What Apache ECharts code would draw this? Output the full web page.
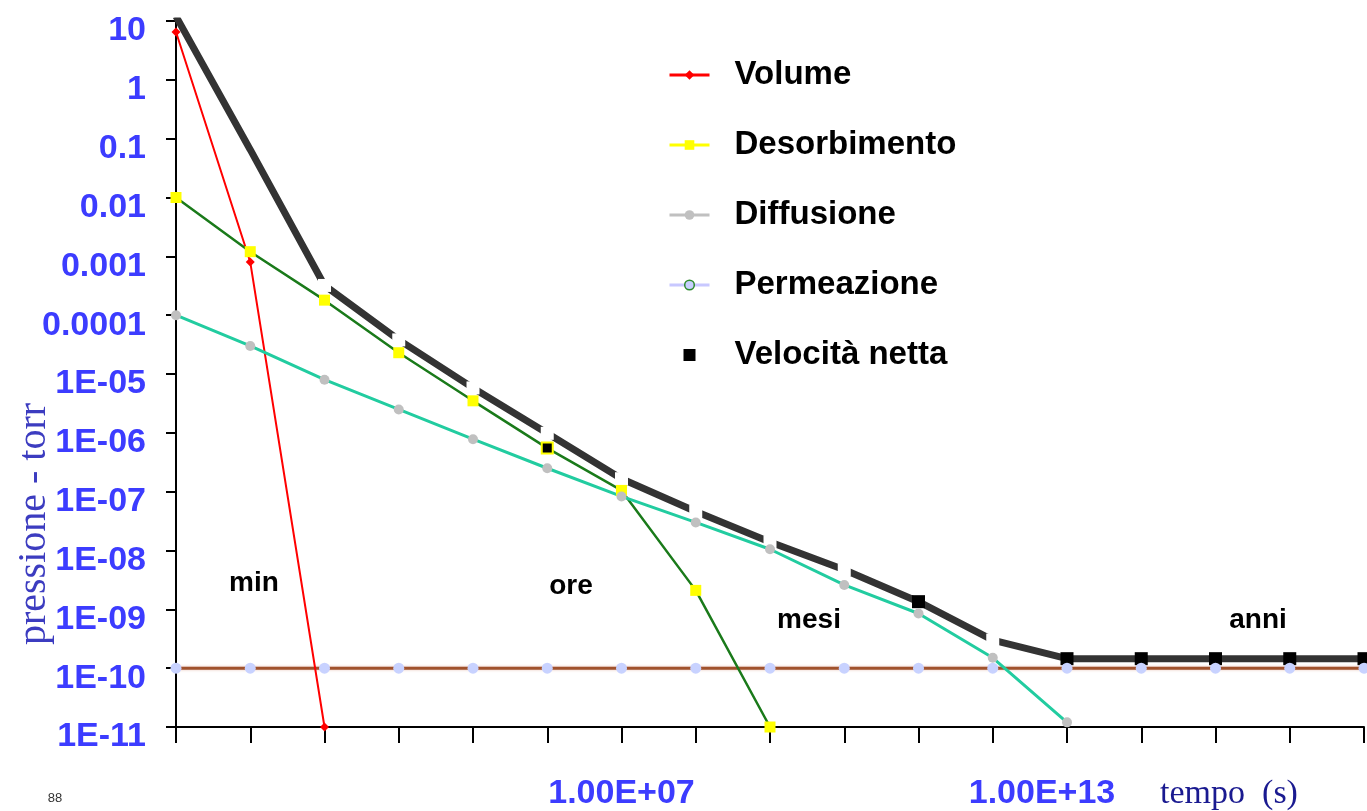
<!DOCTYPE html>
<html>
<head>
<meta charset="utf-8">
<script src="https://cdn.jsdelivr.net/npm/echarts@6/dist/echarts.min.js"></script>
<style>
html,body{margin:0;padding:0;background:#fff;}
#chart{width:1367px;height:811px;}
</style>
</head>
<body>
<div id="chart"></div>
<script>
// ---- data ----
const categories = ['1.00E+01','1.00E+02','1.00E+03','1.00E+04','1.00E+05','1.00E+06','1.00E+07','1.00E+08','1.00E+09','1.00E+10','1.00E+11','1.00E+12','1.00E+13','1.00E+14','1.00E+15','1.00E+16','1.00E+17'];
const shownXLabels = ['1.00E+07','1.00E+13'];
const yTickLabels = {'-11':'1E-11','-10':'1E-10','-9':'1E-09','-8':'1E-08','-7':'1E-07','-6':'1E-06','-5':'1E-05','-4':'0.0001','-3':'0.001','-2':'0.01','-1':'0.1','0':'1','1':'10'};

const volume       = [6.5, 8e-4, 1e-11, null, null, null, null, null, null, null, null, null, null, null, null, null, null];
const desorbimento = [0.01, 1.2e-3, 1.8e-4, 2.3e-5, 3.5e-6, 5.5e-7, 1.05e-7, 2.1e-9, 1e-11, null, null, null, null, null, null, null, null];
const diffusione   = [1e-4, 3e-5, 8e-6, 2.5e-6, 7.8e-7, 2.5e-7, 8.3e-8, 3e-8, 1.05e-8, 2.6e-9, 8.5e-10, 1.5e-10, 1.2e-11, null, null, null, null];
const permeazione  = [1e-10, 1e-10, 1e-10, 1e-10, 1e-10, 1e-10, 1e-10, 1e-10, 1e-10, 1e-10, 1e-10, 1e-10, 1e-10, 1e-10, 1e-10, 1e-10, 1e-10];
const velocitaNetta = [12, 0.065, 3.2e-4, 3.8e-5, 5.8e-6, 9.8e-7, 1.66e-7, 4.6e-8, 1.4e-8, 4.7e-9, 1.35e-9, 3.0e-10, 1.45e-10, 1.45e-10, 1.45e-10, 1.45e-10, 1.45e-10];

const seriesNames = ['Volume','Desorbimento','Diffusione','Permeazione','Velocità netta'];
const regionLabels = ['min','ore','mesi','anni'];

// ---- styling helpers ----
const netGapIdx = [2,3,4,5,6,7,8,9,11];
const netNoSymIdx = [0,1];
const netData = velocitaNetta.map((v,i)=>{
  if (netNoSymIdx.includes(i)) return {value:v, symbol:'none'};
  if (netGapIdx.includes(i)) return {value:v, symbol:'rect', symbolSize:13, itemStyle:{color:'#ffffff'}};
  return {value:v, symbol:'rect', symbolSize:13, itemStyle:{color:'#000000'}};
});
const desData = desorbimento.map((v,i)=> i===5 ? {value:v, itemStyle:{color:'#000000', borderColor:'#ffff00', borderWidth:2}} : v);

const FONT = 'Liberation Sans, Arial, sans-serif';
const SERIF = 'Liberation Serif, Times New Roman, serif';

const chart = echarts.init(document.getElementById('chart'), null, {renderer:'canvas'});
const option = {
  animation:false,
  backgroundColor:'#ffffff',
  grid:{left:176, right:3, top:21, bottom:82, containLabel:false},
  legend:{
    orient:'vertical', left:663, top:52,
    itemWidth:40, itemHeight:12, itemGap:34,
    textStyle:{fontFamily:FONT, fontWeight:'bold', fontSize:33, color:'#000', lineHeight:36, padding:[0,0,0,20]},
    data:[
      {name:seriesNames[0], itemStyle:{color:'#ff0000'}, lineStyle:{color:'#ff0000', width:3}},
      {name:seriesNames[1], itemStyle:{color:'#ffff00'}, lineStyle:{color:'#ffff00', width:3}},
      {name:seriesNames[2], itemStyle:{color:'#c0c0c0'}, lineStyle:{color:'#c0c0c0', width:3}},
      {name:seriesNames[3], itemStyle:{color:'#c8d0ff', borderColor:'#2e8b2e', borderWidth:1.5}, lineStyle:{color:'#c8c8ff', width:3}},
      {name:seriesNames[4], icon:'path://M0,0M40,12M13.5,-0.5h13v13h-13z', itemStyle:{color:'#000000'}}
    ]
  },
  xAxis:{
    type:'category', data:categories, boundaryGap:false,
    axisLine:{lineStyle:{color:'#000', width:2}},
    axisTick:{show:true, interval:0, length:16, lineStyle:{color:'#000', width:2}},
    axisLabel:{
      interval:(i,v)=>shownXLabels.includes(v),
      margin:50, color:'#3c3cff', fontFamily:FONT, fontWeight:'bold', fontSize:34,
      formatter:(v)=> v===shownXLabels[1] ? '{s|'+v+'}' : v,
      rich:{s:{color:'#3c3cff', fontFamily:FONT, fontWeight:'bold', fontSize:34, padding:[0,50,0,0]}}
    },
    splitLine:{show:false}
  },
  yAxis:{
    type:'log', logBase:10, min:1e-11, max:10, interval:1, splitNumber:12,
    axisLine:{show:true, lineStyle:{color:'#000', width:2}},
    axisTick:{show:true, length:10, lineStyle:{color:'#000', width:2}},
    axisLabel:{
      margin:30, color:'#3c3cff', fontFamily:FONT, fontWeight:'bold', fontSize:34,
      formatter:(v)=> '{a|' + (yTickLabels[String(Math.round(Math.log10(v)))] || '') + '}',
      rich:{a:{color:'#3c3cff', fontFamily:FONT, fontWeight:'bold', fontSize:34, padding:[20,0,0,0]}}
    },
    splitLine:{show:false}
  },
  series:[
    {name:seriesNames[4], type:'line', z:1, data:netData,
     lineStyle:{color:'#333333', width:7}, itemStyle:{color:'#000000'}},
    {name:seriesNames[0], type:'line', z:3, data:volume, symbol:'diamond', symbolSize:9,
     lineStyle:{color:'#ff0000', width:2}, itemStyle:{color:'#ff0000'}},
    {name:seriesNames[1], type:'line', z:3, data:desData, symbol:'rect', symbolSize:11,
     lineStyle:{color:'#1a7a1a', width:2.5}, itemStyle:{color:'#ffff00'}},
    {name:seriesNames[2], type:'line', z:3, data:diffusione, symbol:'circle', symbolSize:10,
     lineStyle:{color:'#22cca0', width:3}, itemStyle:{color:'#c0c0c0'}},
    {name:seriesNames[3], type:'line', z:2, data:permeazione, symbol:'circle', symbolSize:11,
     lineStyle:{color:'#a0522d', width:3, shadowColor:'rgba(220,150,130,0.6)', shadowBlur:3}, itemStyle:{color:'#c8d2ff'}}
  ],
  graphic:[
    {type:'text', x:254, y:583, style:{text:regionLabels[0], font:'bold 28px '+FONT, fill:'#000', textAlign:'center', textVerticalAlign:'middle', align:'center', verticalAlign:'middle'}},
    {type:'text', x:571, y:586, style:{text:regionLabels[1], font:'bold 28px '+FONT, fill:'#000', textAlign:'center', textVerticalAlign:'middle', align:'center', verticalAlign:'middle'}},
    {type:'text', x:809, y:620, style:{text:regionLabels[2], font:'bold 28px '+FONT, fill:'#000', textAlign:'center', textVerticalAlign:'middle', align:'center', verticalAlign:'middle'}},
    {type:'text', x:1258, y:620, style:{text:regionLabels[3], font:'bold 28px '+FONT, fill:'#000', textAlign:'center', textVerticalAlign:'middle', align:'center', verticalAlign:'middle'}},
    {type:'text', x:34, y:524, rotation:Math.PI/2, style:{text:'pressione - torr', font:'40px '+SERIF, fill:'#3c3cc0', textAlign:'center', textVerticalAlign:'middle', align:'center', verticalAlign:'middle'}},
    {type:'text', x:1229, y:794, style:{text:'tempo  (s)', font:'34px '+SERIF, fill:'#1a1a90', textAlign:'center', textVerticalAlign:'middle', align:'center', verticalAlign:'middle'}},
    {type:'text', x:55, y:798, style:{text:'88', font:'13px '+FONT, fill:'#333', textAlign:'center', textVerticalAlign:'middle', align:'center', verticalAlign:'middle'}}
  ]
};
chart.setOption(option);
</script>
</body>
</html>
